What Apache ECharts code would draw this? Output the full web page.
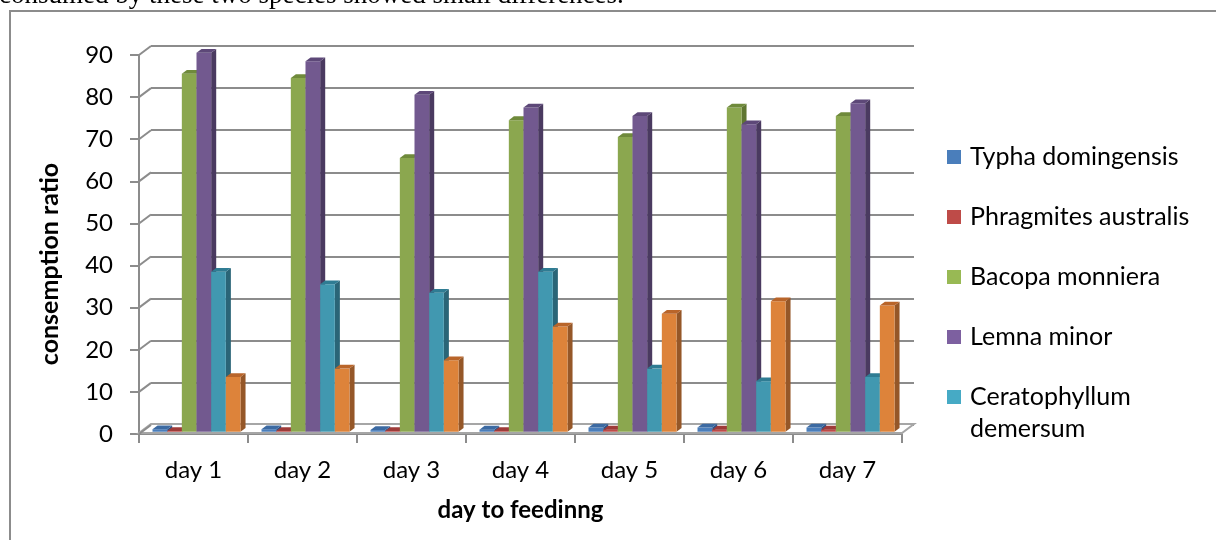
<!DOCTYPE html>
<html>
<head>
<meta charset="utf-8">
<script src="https://cdn.jsdelivr.net/npm/echarts@6/dist/echarts.min.js"></script>
<style>
  html, body { margin: 0; padding: 0; background: #ffffff; }
  #chart { width: 1216px; height: 540px; }
</style>
</head>
<body>
<div id="chart"></div>
<script>
// ---- data ----
const categories = ['day 1', 'day 2', 'day 3', 'day 4', 'day 5', 'day 6', 'day 7'];
const typhaDomingensis = [0.6, 0.6, 0.4, 0.5, 1.0, 1.0, 1.0];
const phragmitesAustralis = [0.2, 0.2, 0.2, 0.2, 0.5, 0.5, 0.5];
const bacopaMonniera = [85, 84, 65, 74, 70, 77, 75];
const lemnaMinor = [90, 88, 80, 77, 75, 73, 78];
const ceratophyllumDemersum = [38, 35, 33, 38, 15, 12, 13];
const sixthSeries = [13, 15, 17, 25, 28, 31, 30];
const seriesNames = ['Typha domingensis', 'Phragmites australis', 'Bacopa monniera', 'Lemna minor', 'Ceratophyllum demersum', 'Series 6'];
const yTickValues = [0, 10, 20, 30, 40, 50, 60, 70, 80, 90];
const topText = 'consumed by these two species showed small differences.';
const xTitle = 'day to feedinng';
const yTitle = 'consemption ratio';

// ---- styles ----
const FONT = 'Lato, "Noto Sans", sans-serif';
const GRAY = '#8c8c8c';
const DEPTH = [12, -9];
const BAR_FRONT = 0.25, BAR_BACK = 0.67;
const faces = [
  { front: '#4A7EBB', top: '#3C6AA2', side: '#2F5486', legend: '#4A7EBB' },
  { front: '#BE4B48', top: '#9E3B39', side: '#8A3331', legend: '#BE4B48' },
  { front: '#8BA74F', top: '#6F8A3B', side: '#5F7631', legend: '#98B954' },
  { front: '#72598F', top: '#5D4878', side: '#4A3A60', legend: '#7D60A0' },
  { front: '#4198B0', top: '#2F7C93', side: '#2A6577', legend: '#46AAC5' },
  { front: '#DD833A', top: '#B9652A', side: '#955728', legend: '#F79646' }
];
const allValues = [typhaDomingensis, phragmitesAustralis, bacopaMonniera, lemnaMinor, ceratophyllumDemersum, sixthSeries];

function barRender(si) {
  return function (params, api) {
    const cat = api.value(0), val = api.value(1);
    const base = api.coord([cat, 0]);
    const topP = api.coord([cat, val]);
    const band = api.size([1, 0])[0];
    const bw = band * 88 / 109 / 6;
    const ox = DEPTH[0] * BAR_FRONT, oy = DEPTH[1] * BAR_FRONT;
    const dx = DEPTH[0] * (BAR_BACK - BAR_FRONT), dy = DEPTH[1] * (BAR_BACK - BAR_FRONT);
    const x0 = base[0] - 3 * bw + si * bw + ox;
    const x1 = x0 + bw;
    const yb = base[1] + oy, yt = topP[1] + oy;
    const c = faces[si];
    return {
      type: 'group',
      children: [
        { type: 'polygon', shape: { points: [[x1, yt], [x1 + dx, yt + dy], [x1 + dx, yb + dy], [x1, yb]] }, style: { fill: c.side } },
        { type: 'rect', shape: { x: x0, y: yt, width: bw, height: yb - yt }, style: { fill: c.front } },
        { type: 'polygon', shape: { points: [[x0, yt], [x1, yt], [x1 + dx, yt + dy], [x0 + dx, yt + dy]] }, style: { fill: c.top } }
      ]
    };
  };
}

const barSeries = allValues.map((vals, si) => ({
  name: seriesNames[si],
  type: 'custom',
  xAxisIndex: 1,
  yAxisIndex: 1,
  z: 5,
  itemStyle: { color: faces[si].legend },
  renderItem: barRender(si),
  data: vals.map((v, i) => [i, v])
}));

const chart = echarts.init(document.getElementById('chart'), null, { renderer: 'canvas' });
chart.setOption({
  backgroundColor: '#ffffff',
  animation: false,
  textStyle: { fontFamily: FONT },
  graphic: [
    { type: 'rect', z: -10, shape: { x: 10, y: 11, width: 1400, height: 700 }, style: { fill: 'none', stroke: GRAY, lineWidth: 2 } },
    { type: 'text', x: -1, y: -4, style: { text: topText, font: '27px "Liberation Serif", serif', fill: '#000', verticalAlign: 'middle' } },
    { type: 'text', x: 50, y: 264, rotation: Math.PI / 2, style: { text: yTitle, font: 'bold 25px ' + FONT, fill: '#000', align: 'center', verticalAlign: 'middle' } }
  ],
  grid: [
    { left: 151, top: 46, width: 763, height: 379 },
    { left: 139, top: 55, width: 763, height: 379 }
  ],
  xAxis: [
    { gridIndex: 0, type: 'category', data: categories, show: false },
    {
      gridIndex: 1, type: 'category', data: categories,
      axisLine: { show: true, lineStyle: { color: GRAY, width: 2 } },
      axisTick: { show: true, length: 9, lineStyle: { color: GRAY, width: 2 } },
      axisLabel: { color: '#000', fontSize: 24, fontFamily: FONT, margin: 24 },
      name: xTitle, nameLocation: 'middle', nameGap: 64,
      nameTextStyle: { color: '#000', fontSize: 24, fontWeight: 'bold', fontFamily: FONT }
    }
  ],
  yAxis: [
    {
      gridIndex: 0, type: 'value', min: 0, max: 90, interval: 10,
      axisLine: { show: false }, axisTick: { show: false }, axisLabel: { show: false },
      splitLine: { show: true, lineStyle: { color: GRAY, width: 2 } }
    },
    {
      gridIndex: 1, type: 'value', min: 0, max: 90, interval: 10,
      axisLine: { show: true, lineStyle: { color: GRAY, width: 2 } },
      axisTick: { show: true, length: 9, lineStyle: { color: GRAY, width: 2 } },
      axisLabel: { color: '#000', fontSize: 24, fontFamily: FONT, margin: 26 },
      splitLine: { show: false }
    }
  ],
  legend: [
    {
      orient: 'vertical', left: 947, top: 141, padding: 0, itemGap: 28,
      itemWidth: 14, itemHeight: 14, icon: 'rect',
      data: seriesNames.slice(0, 4),
      textStyle: { color: '#000', fontSize: 25, fontFamily: FONT, lineHeight: 32, padding: [0, 0, 0, 4] }
    },
    {
      orient: 'vertical', left: 947, top: 349, padding: 0,
      itemWidth: 14, itemHeight: 14, icon: 'rect',
      data: [seriesNames[4]],
      formatter: function (n) { return '\n' + n.replace(' ', '\n'); },
      textStyle: { color: '#000', fontSize: 25, fontFamily: FONT, lineHeight: 32, padding: [0, 0, 0, 4] }
    }
  ],
  series: [
    {
      name: 'floor', type: 'custom', xAxisIndex: 1, yAxisIndex: 1, z: 1, silent: true,
      data: [[0, 0]],
      renderItem: function (params, api) {
        const cs = params.coordSys;
        const y = api.coord([0, 0])[1] - 1;
        const xl = cs.x, xr = cs.x + cs.width;
        return {
          type: 'polygon',
          shape: { points: [[xl, y], [xr, y], [xr + DEPTH[0], y + DEPTH[1]], [xl + DEPTH[0], y + DEPTH[1]]] },
          style: { fill: '#ffffff', stroke: '#a6a6a6', lineWidth: 2 }
        };
      }
    },
    {
      name: 'wall', type: 'custom', xAxisIndex: 1, yAxisIndex: 1, z: 2, silent: true,
      data: yTickValues.map(v => [0, v]),
      renderItem: function (params, api) {
        const cs = params.coordSys;
        const y = api.coord([0, api.value(1)])[1];
        return {
          type: 'line',
          shape: { x1: cs.x, y1: y, x2: cs.x + DEPTH[0], y2: y + DEPTH[1] },
          style: { stroke: GRAY, lineWidth: 2 }
        };
      }
    }
  ].concat(barSeries)
});
</script>
</body>
</html>
